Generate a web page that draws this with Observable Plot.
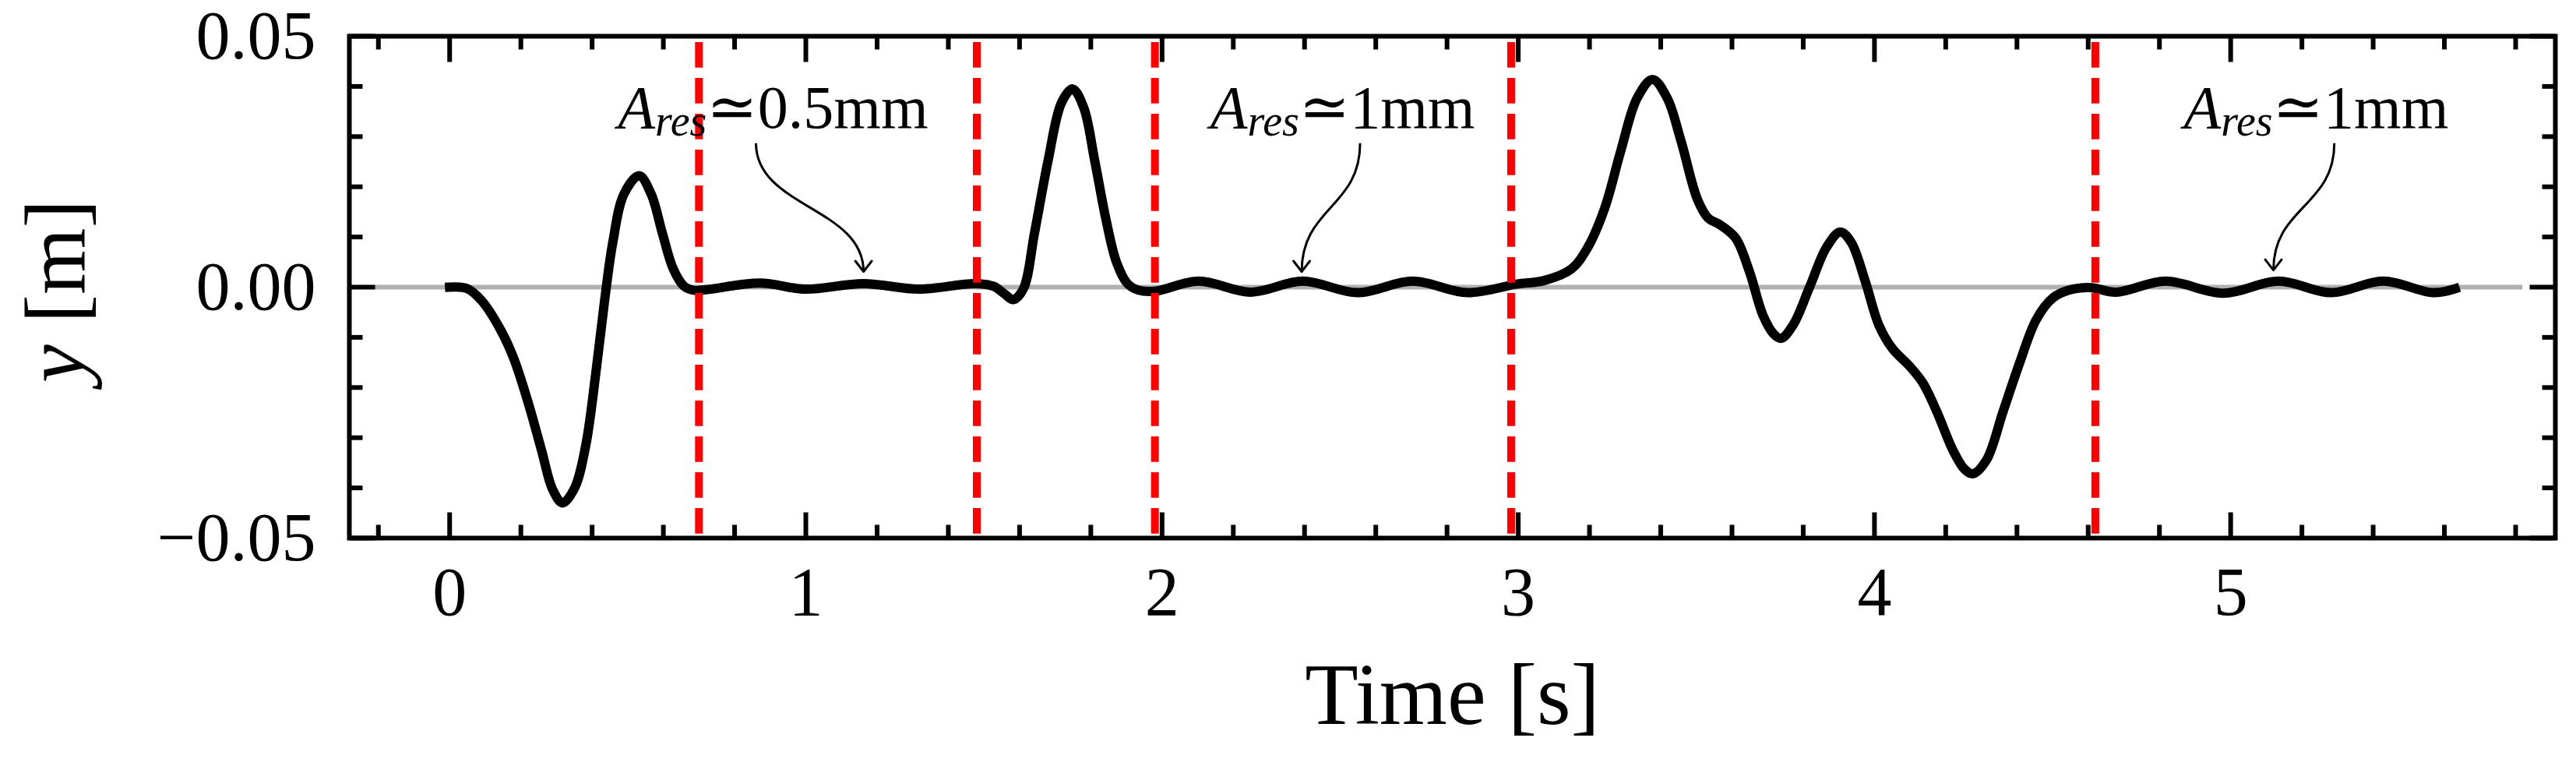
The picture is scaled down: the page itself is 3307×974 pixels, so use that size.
<!DOCTYPE html>
<html>
<head>
<meta charset="utf-8">
<script src="https://cdn.jsdelivr.net/npm/d3@7"></script>
<script src="https://cdn.jsdelivr.net/npm/@observablehq/plot@0.6"></script>
<style>
  html, body { margin: 0; padding: 0; background: #ffffff; }
  #chart svg { display: block; }
</style>
</head>
<body>
<div id="chart"></div>
<script>
// ---- data ----
const time = [0, 0.05, 0.09, 0.143, 0.18, 0.22, 0.258, 0.289, 0.317, 0.351, 0.382, 0.412, 0.435, 0.458, 0.489, 0.532, 0.566, 0.597, 0.628, 0.658, 0.685, 0.72, 0.872, 0.998, 1.162, 1.317, 1.474, 1.526, 1.557, 1.583, 1.611, 1.642, 1.68, 1.718, 1.749, 1.78, 1.811, 1.842, 1.872, 1.903, 1.934, 1.98, 2.103, 2.249, 2.395, 2.549, 2.703, 2.857, 2.995, 3.072, 3.149, 3.195, 3.242, 3.288, 3.334, 3.377, 3.418, 3.457, 3.503, 3.534, 3.565, 3.61, 3.649, 3.687, 3.718, 3.738, 3.772, 3.819, 3.865, 3.904, 3.935, 3.974, 4.012, 4.051, 4.098, 4.136, 4.175, 4.221, 4.252, 4.276, 4.314, 4.361, 4.407, 4.454, 4.5, 4.546, 4.608, 4.678, 4.817, 4.98, 5.135, 5.282, 5.429, 5.568, 5.63];
const displacement = [0, -0.0003, -0.0027, -0.0085, -0.0142, -0.0229, -0.0325, -0.0403, -0.043, -0.040, -0.0316, -0.0162, -0.0027, 0.0089, 0.0185, 0.0222, 0.0185, 0.0108, 0.0036, 0.0002, -0.0006, -0.0005, 0.0008, -0.0004, 0.0007, -0.0004, 0.0007, 0.0002, -0.0013, -0.0025, -0.0003, 0.0108, 0.0252, 0.0368, 0.0395, 0.0358, 0.0252, 0.0137, 0.005, 0.0007, -0.0006, -0.0008, 0.0012, -0.001, 0.0012, -0.0011, 0.0012, -0.0011, 0.0006, 0.0013, 0.0036, 0.0079, 0.0156, 0.0272, 0.0377, 0.0414, 0.0377, 0.0291, 0.0175, 0.0137, 0.0125, 0.0098, 0.0031, -0.0056, -0.0094, -0.0102, -0.0075, 0.0002, 0.0079, 0.011, 0.0089, 0.0012, -0.0075, -0.0123, -0.0157, -0.0191, -0.0248, -0.0326, -0.0362, -0.0372, -0.0345, -0.0248, -0.0152, -0.0065, -0.0022, -0.0006, -0.0001, -0.001, 0.0012, -0.0012, 0.0012, -0.0011, 0.0012, -0.0011, -0.0003];

const resetTimes = [0.70, 1.48, 1.98, 2.98, 4.62];

const annotationLabels = ["0.5mm", "1mm", "1mm"];
const annotationTextT = [0.908, 2.507, 5.24];
const annotationTextY = [0.0318, 0.0318, 0.0318];
const arrowStartT = [0.86, 2.556, 5.291];
const arrowStartY = [0.0287, 0.0287, 0.0287];
const arrowTipT = [1.162, 2.392, 5.12];
const arrowTipY = [0.0031, 0.0031, 0.0034];

const xDomain = [-0.2815, 5.9115];
const yDomain = [-0.05, 0.05];
const xMajorTicks = [0, 1, 2, 3, 4, 5];
const xMinorTicks = [-0.2, 0.2, 0.4, 0.6, 0.8, 1.2, 1.4, 1.6, 1.8, 2.2, 2.4, 2.6, 2.8, 3.2, 3.4, 3.6, 3.8, 4.2, 4.4, 4.6, 4.8, 5.2, 5.4, 5.6, 5.8];
const yMajorTicks = [-0.05, 0, 0.05];
const yMinorTicks = [-0.04, -0.03, -0.02, -0.01, 0.01, 0.02, 0.03, 0.04];
const zeroLineSpan = [-0.21, 5.82];

const xLabel = "Time [s]";
const yLabel = "y [m]";
const annotationPrefix = "Ares≃";

// ---- build ----
const series = time.map((t, i) => ({t, y: displacement[i]}));
const annotations = annotationLabels.map((label, i) => ({
  label,
  tx: annotationTextT[i], ty: annotationTextY[i],
  x1: arrowStartT[i], y1: arrowStartY[i],
  x2: arrowTipT[i], y2: arrowTipY[i]
}));
const resets = resetTimes.map(t => ({t, y1: yDomain[0], y2: yDomain[1]}));
const zeroLine = [{y: 0, x1: zeroLineSpan[0], x2: zeroLineSpan[1]}];

const tickShape = {draw(context, l) { context.moveTo(0, 0); context.lineTo(0, -l); }};
function tickMarks(values, channel, frameAnchor, rotate, length) {
  return Plot.vector(values, {
    [channel]: d => d, frameAnchor, rotate, length, anchor: "start",
    shape: tickShape, stroke: "black", strokeWidth: 6, strokeLinecap: "butt"
  });
}

const FONT = "'Liberation Serif', 'DejaVu Serif', serif";

try {
  const svg = Plot.plot({
    width: 3307,
    height: 974,
    marginLeft: 448,
    marginRight: 27,
    marginTop: 46,
    marginBottom: 284,
    x: {domain: xDomain},
    y: {domain: yDomain},
    style: {fontFamily: FONT, background: "#ffffff", color: "black"},
    marks: [
      Plot.ruleY(zeroLine, {y: "y", x1: "x1", x2: "x2", stroke: "#b0b0b0", strokeWidth: 6}),
      tickMarks(xMajorTicks, "x", "bottom", 0, 33),
      tickMarks(xMajorTicks, "x", "top", 180, 33),
      tickMarks(xMinorTicks, "x", "bottom", 0, 17),
      tickMarks(xMinorTicks, "x", "top", 180, 17),
      tickMarks(yMajorTicks, "y", "left", 90, 33),
      tickMarks(yMajorTicks, "y", "right", -90, 33),
      tickMarks(yMinorTicks, "y", "left", 90, 17),
      tickMarks(yMinorTicks, "y", "right", -90, 17),
      Plot.line(series, {x: "t", y: "y", curve: "catmull-rom", stroke: "black", strokeWidth: 12, strokeLinecap: "square", strokeLinejoin: "round"}),
      Plot.ruleX(resets, {x: "t", y1: "y1", y2: "y2", stroke: "#ff0000", strokeWidth: 10, strokeDasharray: "32.7,13.3", strokeDashoffset: 40.7}),
      Plot.link(annotations, {x1: "x1", y1: "y1", x2: "x2", y2: "y2", curve: "bump-y", markerEnd: "arrow", stroke: "black", strokeWidth: 3}),
      Plot.text(annotations, {x: "tx", y: "ty", text: d => annotationPrefix + d.label, fontSize: 78, lineAnchor: "bottom", fill: "black"}),
      Plot.axisX(xMajorTicks, {tickSize: 0, tickPadding: 36, fontSize: 88, tickFormat: d => String(d), label: null}),
      Plot.axisY(yMajorTicks, {tickSize: 0, tickPadding: 43, fontSize: 88, tickFormat: d => (d < 0 ? "\u2212" : "") + Math.abs(d).toFixed(2), label: null}),
      Plot.text([xLabel], {text: d => d, frameAnchor: "bottom", dy: 238, lineAnchor: "bottom", textAnchor: "middle", fontSize: 112, fill: "black"}),
      Plot.text([yLabel], {text: d => d, frameAnchor: "left", dx: -341, dy: 5, rotate: -90, lineAnchor: "bottom", textAnchor: "middle", fontSize: 110, fill: "black"}),
      Plot.frame({stroke: "black", strokeWidth: 6})
    ]
  });

  // larger open arrow heads, like matplotlib's "->"
  svg.querySelectorAll("marker").forEach(m => {
    m.setAttribute("markerWidth", 10);
    m.setAttribute("markerHeight", 10);
    m.setAttribute("stroke-width", 1);
    m.setAttribute("overflow", "visible");
    const p = m.querySelector("path");
    if (p) p.setAttribute("d", "M-4.5,-3.5L0,0L-4.5,3.5");
  });

  // rich text: italic A with subscript "res", italic y
  const NS = "http://www.w3.org/2000/svg";
  function tspan(parent, txt, attrs) {
    const t = document.createElementNS(NS, "tspan");
    for (const k in attrs) t.setAttribute(k, attrs[k]);
    t.textContent = txt;
    parent.appendChild(t);
  }
  svg.querySelectorAll("text").forEach(el => {
    const s = el.textContent;
    if (s.startsWith(annotationPrefix)) {
      const rest = s.slice(annotationPrefix.length);
      el.textContent = "";
      tspan(el, "A", {"font-style": "italic"});
      tspan(el, "res", {"font-style": "italic", "font-size": "56", "dy": "10"});
      tspan(el, "\u2243" + rest, {"dy": "-10"});
    } else if (s === yLabel) {
      el.textContent = "";
      tspan(el, "y", {"font-style": "italic"});
      tspan(el, " [m]", {});
    }
  });

  document.getElementById("chart").appendChild(svg);
} catch (e) {
  document.getElementById("chart").textContent = "Error: " + e.message;
  console.error(e);
}
</script>
</body>
</html>
